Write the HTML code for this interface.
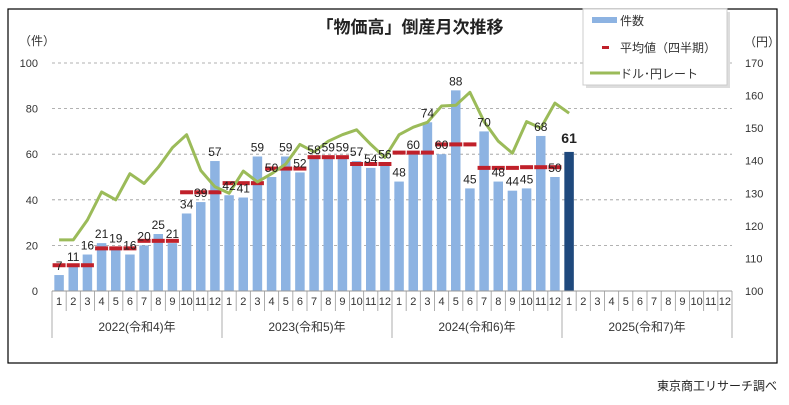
<!DOCTYPE html>
<html><head><meta charset="utf-8"><style>
body{margin:0;background:#fff;}
svg text{font-family:"Liberation Sans","Noto Sans CJK JP",sans-serif;}
</style></head><body>
<svg id="chart" width="789" height="400" viewBox="0 0 789 400" xmlns="http://www.w3.org/2000/svg">
<rect x="8" y="9" width="769" height="354" fill="#fff" stroke="#000" stroke-width="1.2"/>
<text x="410" y="33" text-anchor="middle" font-size="17" font-weight="bold" fill="#222">「物価高」倒産月次推移</text>
<text x="19" y="45" font-size="12" fill="#333">（件）</text>
<text x="744" y="46" font-size="12" fill="#333">（円）</text>
<g id="grid"></g><g id="bars"></g><g id="avgs"></g><g id="line"></g><g id="labels"></g><g id="axis"></g>
<g>
<rect x="586" y="12" width="144" height="76" fill="#bbb" opacity="0.5"/>
<rect x="583" y="9" width="144" height="76" fill="#fff" stroke="#ccc"/>
<rect x="592" y="17" width="25" height="6" fill="#8db3e2"/>
<text x="620" y="25" font-size="12" fill="#333">件数</text>
<rect x="602" y="46" width="7" height="3" fill="#c0202a"/>
<text x="620" y="52" font-size="12" fill="#333">平均値（四半期）</text>
<line x1="590" y1="73" x2="620" y2="73" stroke="#9bbb59" stroke-width="3"/>
<text x="620" y="78" font-size="12" fill="#333">ドル･円レート</text>
</g>
<text x="777" y="390" text-anchor="end" font-size="12" fill="#222">東京商工リサーチ調べ</text>
</svg>
<script>
const years = ['2022(令和4)年','2023(令和5)年','2024(令和6)年','2025(令和7)年'];
const counts = [7,11,16,21,19,16,20,25,21,34,39,57, 42,41,59,50,59,52,58,59,59,57,54,56, 48,60,74,60,88,45,70,48,44,45,68,50, 61];
const quarterAvg = [11.3,18.7,22,43.3, 47.3,53.7,58.7,55.7, 60.7,64.3,54,54.3];
const usdjpy = [115.7,115.7,121.8,130.4,128,136,133,138,144,148,137,132, 130,136.8,133.5,136,139,145,142.7,146,148,149.5,145,141, 148,150.3,151.8,156.8,157,161,152,146,142.3,152,150,157.7, 154.6];
const leftTicks = [0,20,40,60,80,100];
const rightTicks = [100,110,120,130,140,150,160,170];

const NS='http://www.w3.org/2000/svg';
const X0=52, X1=732, N=48, CW=(X1-X0)/N, Y0=291, Y100=63;
const xc=i=>X0+CW*(i+0.5);
const yL=v=>Y0-(Y0-Y100)*v/100;
const yR=v=>Y0-(Y0-Y100)*(v-100)/70;
function mk(tag,attrs,parent,txt){const e=document.createElementNS(NS,tag);for(const k in attrs)e.setAttribute(k,attrs[k]);if(txt!==undefined)e.textContent=txt;document.getElementById(parent).appendChild(e);return e;}

leftTicks.forEach(t=>{
  if(t>0){const g=mk('line',{x1:X0,x2:X1,y1:yL(t),y2:yL(t),stroke:'#999','stroke-dasharray':'3,3','stroke-width':0.8},'grid');
  
  }
  const l=mk('text',{x:38,y:yL(t)+4,'text-anchor':'end','font-size':11,fill:'#333'},'axis',String(t));
  
  
});
rightTicks.forEach(t=>{
  const l=mk('text',{x:745,y:yR(t)+4,'font-size':11,fill:'#333'},'axis',String(t));
  
  
});
counts.forEach((v,i)=>{
  const bw=9.5;
  const b=mk('rect',{x:xc(i)-bw/2,y:yL(v),width:bw,height:Y0-yL(v),fill:i===36?'#1f497d':'#8db3e2'},'bars');
  
  
  const last=i===36;
  const t=mk('text',{x:xc(i),y:yL(v)-5,'text-anchor':'middle','font-size':last?14:12,'font-weight':last?'bold':'normal',fill:'#222','font-family':last?'"Liberation Serif",serif':'"Liberation Sans",sans-serif'},'labels',String(v));
  if(last)t.setAttribute('y',yL(v)-9);
  
  
});
quarterAvg.forEach((v,q)=>{
  for(let k=0;k<3;k++){
    const i=q*3+k;
    const d=mk('rect',{x:xc(i)-6.5,y:yL(v)-2,width:13,height:4,fill:'#c0202a'},'avgs');
    
    
  }
});
const pts=usdjpy.map((v,i)=>xc(i).toFixed(1)+','+yR(v).toFixed(1)).join(' ');
const pl=mk('polyline',{points:pts,fill:'none',stroke:'#9bbb59','stroke-width':3,'stroke-linejoin':'round'},'line');



const ax=mk('line',{x1:X0,x2:X1,y1:Y0,y2:Y0,stroke:'#999'},'axis');


for(let i=0;i<=N;i++){
  const x=X0+CW*i;
  const s=mk('line',{x1:x,x2:x,y1:Y0,y2:(i%12===0)?338:311,stroke:'#999','stroke-width':0.8},'axis');
  
  
  if(i<N){
    const m=mk('text',{x:xc(i),y:305,'text-anchor':'middle','font-size':11,fill:'#333'},'axis',String(i%12+1));
    
    
  }
}
years.forEach((y,k)=>{
  const t=mk('text',{x:X0+CW*(k*12+6),y:331,'text-anchor':'middle','font-size':12,fill:'#333'},'axis',y);
  
  
});
</script>
</body></html>
